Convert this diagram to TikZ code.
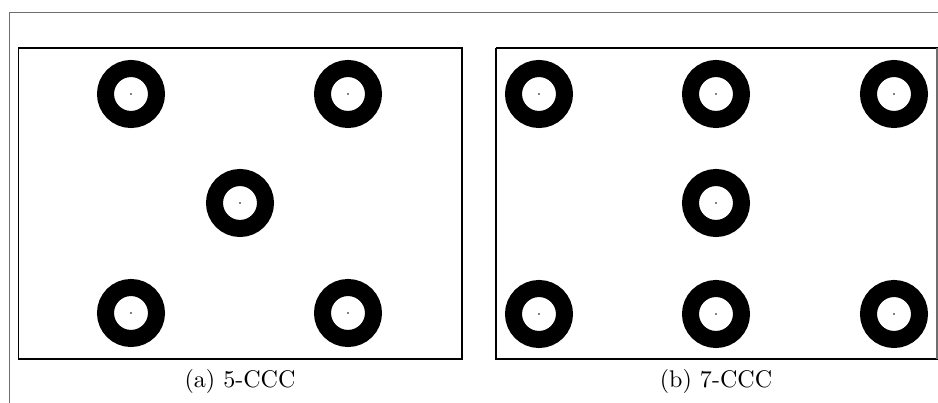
\documentclass[tikz,border=0pt]{standalone}
\usepackage{tikz}
\usetikzlibrary{positioning}
\definecolor{framegray}{RGB}{110,110,110}
\tikzset{
    % black ring target
    ring/.style={
        circle, draw=black, fill=white,
        minimum size=51*0.0146cm, inner sep=0pt,
        line width=17*0.0146cm
    },
    % panel frame
    panel/.style={draw=black, line width=0.8pt},
    outerframe/.style={draw=framegray, line width=0.7pt},
    caption/.style={font=\normalsize, inner sep=1pt},
}

\begin{document}
\begin{tikzpicture}[x=0.0146cm,y=-0.0146cm]
      \useasboundingbox (0,0) rectangle (938,403);
      \clip (0,0) rectangle (938,403);
      \draw[outerframe] (9.5,404) -- (9.5,12.5) -- (939,12.5);
      % (a) 5-CCC
      \draw[panel] (18.5,48) rectangle (462,359);
      \foreach \n/\x/\y in {1/131/94,2/348/94,3/240/203,4/131/313,5/348/313}{
        \node[ring] (rA\n) at (\x,\y) {};
        \fill (rA\n.center) circle[radius=0.35pt];
      }
      \node[caption] (capA) at (240,381) {(a) 5-CCC};
      % (b) 7-CCC
      \draw[panel] (496,48) -- (938.5,48);
      \draw[panel] (938.5,359) -- (496,359) -- (496,48);
      \draw[outerframe] (937.3,48) -- (937.3,359);
      \foreach \n/\x/\y in {1/539/94,2/716/94,3/894/94,4/716/203,5/539/314,6/716/314,7/894/314}{
        \node[ring] (rB\n) at (\x,\y) {};
        \fill (rB\n.center) circle[radius=0.35pt];
      }
      \node[caption] (capB) at (716,381) {(b) 7-CCC};
\end{tikzpicture}
\end{document}
